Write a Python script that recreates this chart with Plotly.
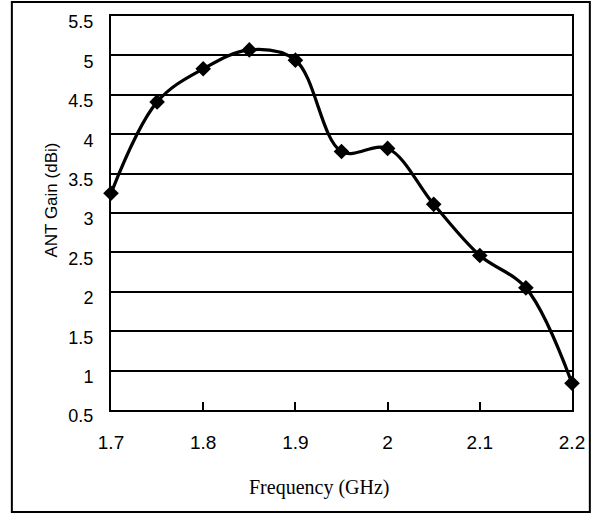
import plotly.graph_objects as go

# Antenna gain measured across the band
freq_ghz = [1.70, 1.75, 1.80, 1.85, 1.90, 1.95, 2.00, 2.05, 2.10, 2.15, 2.20]
gain_dbi = [3.25, 4.41, 4.83, 5.07, 4.94, 3.78, 3.82, 3.11, 2.46, 2.05, 0.84]

x_ticks = [1.7, 1.8, 1.9, 2.0, 2.1, 2.2]
x_tick_text = ["1.7", "1.8", "1.9", "2", "2.1", "2.2"]
y_ticks = [0.5, 1, 1.5, 2, 2.5, 3, 3.5, 4, 4.5, 5, 5.5]
y_tick_text = ["0.5", "1", "1.5", "2", "2.5", "3", "3.5", "4", "4.5", "5", "5.5"]

W, H = 597, 514
L, R, T, B = 111, 21, 16, 104
pw, ph = W - L - R, H - T - B


def px_x(p):
    return (p - L) / pw


def px_y(p):
    return (H - B - p) / ph


sans = "Arial, Liberation Sans, sans-serif"
serif = "Times New Roman, Liberation Serif, serif"

fig = go.Figure()
fig.add_trace(go.Scatter(
    x=freq_ghz, y=gain_dbi,
    mode="lines+markers",
    line=dict(color="black", width=3.2, shape="spline", smoothing=1),
    marker=dict(symbol="diamond", size=12, color="black"),
    cliponaxis=False,
    showlegend=False,
))

fig.update_layout(
    width=W, height=H,
    margin=dict(l=L, r=R, t=T, b=B),
    paper_bgcolor="white", plot_bgcolor="white",
    font=dict(family=sans, color="black"),
    xaxis=dict(
        range=[1.7, 2.2], tickvals=x_ticks, ticktext=x_tick_text,
        ticks="inside", ticklen=8, tickwidth=2, tickcolor="black",
        showgrid=False, zeroline=False,
        showline=True, linewidth=2, linecolor="black", mirror=True,
        tickfont=dict(size=19, family=sans),
        ticklabelstandoff=14,
    ),
    yaxis=dict(
        range=[0.5, 5.5], tickvals=y_ticks, ticktext=y_tick_text,
        ticks="", showgrid=True, gridcolor="black", gridwidth=1.6,
        zeroline=False,
        showline=True, linewidth=2, linecolor="black", mirror=True,
        tickfont=dict(size=18, family=sans),
        ticklabelstandoff=12, ticklabelshift=6,
    ),
    shapes=[dict(
        type="rect", xref="paper", yref="paper",
        x0=px_x(11), x1=px_x(594), y0=px_y(512), y1=px_y(2),
        line=dict(color="black", width=2), fillcolor="rgba(0,0,0,0)",
    )],
    annotations=[
        dict(text="Frequency (GHz)", xref="paper", yref="paper",
             x=px_x(321), y=px_y(487), showarrow=False,
             font=dict(family=serif, size=20), xanchor="center", yanchor="middle"),
        dict(text="ANT Gain (dBi)", xref="paper", yref="paper",
             x=px_x(51), y=px_y(200), showarrow=False, textangle=-90,
             font=dict(family=sans, size=17), xanchor="center", yanchor="middle"),
    ],
)

fig.write_html("out.html")
